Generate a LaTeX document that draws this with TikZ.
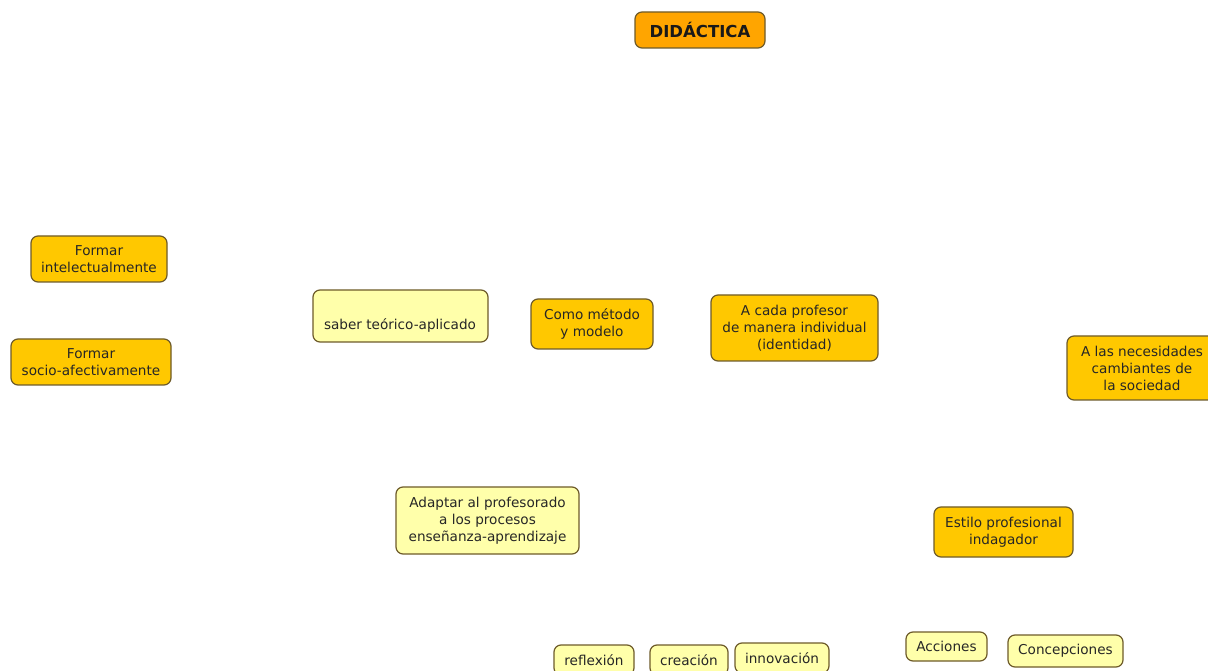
\documentclass[tikz,border=0pt]{standalone}
\usepackage{fontspec}
\setmainfont{DejaVu Sans}
\definecolor{gold}{HTML}{FFC800}
\definecolor{orng}{HTML}{FFA500}
\definecolor{pale}{HTML}{FFFFAA}
\definecolor{edge}{HTML}{6E5B2A}
\definecolor{ink}{HTML}{262626}
\tikzset{
  box/.style={draw=edge, line width=1.2pt, rounded corners=7pt, inner sep=0pt,
    align=center, text=ink, font=\fontsize{13.6}{17}\selectfont},
  goldbox/.style={box, fill=gold},
  palebox/.style={box, fill=pale},
  topbox/.style={box, fill=orng, text=black!90, font=\fontsize{16.5}{19}\selectfont\bfseries},
  txt/.style={inner sep=0pt, text=ink, font=\fontsize{13.6}{17}\selectfont}
}
\begin{document}
\begin{tikzpicture}[x=1pt,y=1pt]
\useasboundingbox (0,0) rectangle (1208,670);
\fill[white] (0,0) rectangle (1208,670);
\clip (0,0) rectangle (1208,670);
\node[topbox, minimum width=130pt, minimum height=36pt] (did) at (700,640) {DIDÁCTICA};
\node[goldbox, minimum width=136pt, minimum height=46pt] (fi) at (99,411) {Formar\\intelectualmente};
\node[goldbox, minimum width=160pt, minimum height=46pt] (fs) at (91,308) {Formar\\socio-afectivamente};
\node[palebox, minimum width=175pt, minimum height=52pt] (saber) at (400.5,354) {};
\node[txt] (sabert) at (400,345) {saber teórico-aplicado};
\node[goldbox, minimum width=122pt, minimum height=50pt] (como) at (592,346) {Como método\\y modelo};
\node[goldbox, minimum width=167pt, minimum height=66pt] (cada) at (794.5,342) {A cada profesor\\de manera individual\\(identidad)};
\node[goldbox, minimum width=150pt, minimum height=64pt] (alas) at (1142,302) {A las necesidades\\cambiantes de\\la sociedad};
\node[palebox, minimum width=183pt, minimum height=67pt] (adap) at (487.5,149.5) {Adaptar al profesorado\\a los procesos\\enseñanza-aprendizaje};
\node[goldbox, minimum width=139pt, minimum height=50pt] (estilo) at (1003.5,138) {Estilo profesional\\indagador};
\node[palebox, minimum width=80pt, minimum height=30pt] (refl) at (594,10) {reflexión};
\node[palebox, minimum width=78pt, minimum height=30pt] (crea) at (689,10) {creación};
\node[palebox, minimum width=94pt, minimum height=30pt] (inno) at (782,12) {innovación};
\node[palebox, minimum width=81pt, minimum height=29pt] (acc) at (946.5,23.5) {Acciones};
\node[palebox, minimum width=115pt, minimum height=32pt] (conc) at (1065.5,19) {Concepciones};
\end{tikzpicture}
\end{document}
